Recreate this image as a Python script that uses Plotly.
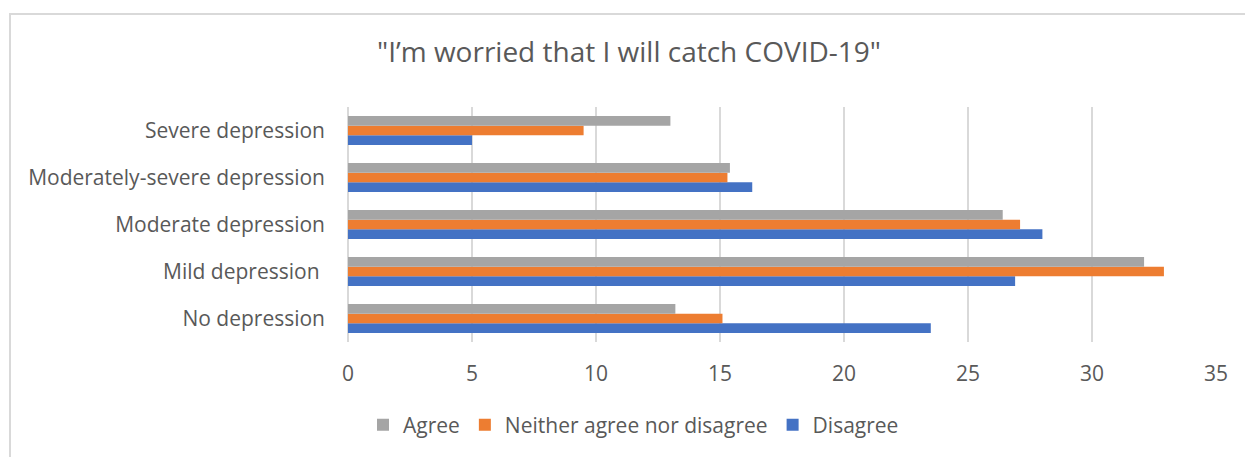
import plotly.graph_objects as go

categories = ["No depression", "Mild depression\u00a0", "Moderate depression",
              "Moderately-severe depression", "Severe depression"]
agree = [13.2, 32.1, 26.4, 15.4, 13.0]
neither = [15.1, 32.9, 27.1, 15.3, 9.5]
disagree = [23.5, 26.9, 28.0, 16.3, 5.0]
x_ticks = [0, 5, 10, 15, 20, 25, 30, 35]

W, H = 1245, 457
L, R, T, B = 348, 29, 107, 115
pw, ph = W - L - R, H - T - B

FONT = "Open Sans, sans-serif"
TXT = "#595959"

fig = go.Figure()
fig.add_trace(go.Bar(y=categories, x=disagree, name="Disagree", orientation="h",
                     marker=dict(color="#4472C4", line=dict(width=0))))
fig.add_trace(go.Bar(y=categories, x=neither, name="Neither agree nor disagree", orientation="h",
                     marker=dict(color="#ED7D31", line=dict(width=0))))
fig.add_trace(go.Bar(y=categories, x=agree, name="Agree", orientation="h",
                     marker=dict(color="#A5A5A5", line=dict(width=0))))

def px_x(p):
    return (p - L) / pw

def px_y(p):
    return (H - B - p) / ph

fig.update_layout(
    width=W, height=H,
    margin=dict(l=L, r=R, t=T, b=B, pad=0),
    paper_bgcolor="white", plot_bgcolor="white",
    barmode="group", bargap=0.38, bargroupgap=0,
    font=dict(family=FONT, color=TXT, size=21),
    title=dict(text="\"I’m worried that I will catch COVID-19\"",
               x=629 / W, xanchor="center", y=1 - 52 / H, yanchor="middle",
               xref="container", yref="container",
               font=dict(family=FONT, size=28, color=TXT)),
    xaxis=dict(range=[0, 35], tickvals=x_ticks, ticktext=[str(v) for v in x_ticks],
               showgrid=True, gridcolor="#d9d9d9", gridwidth=2,
               zeroline=True, zerolinecolor="#d9d9d9", zerolinewidth=2,
               showline=False, ticks="", tickfont=dict(size=21, color=TXT),
               ticklabelstandoff=17, fixedrange=True),
    yaxis=dict(showgrid=False, zeroline=False, showline=False, ticks="",
               tickfont=dict(size=21, color=TXT), ticklabelstandoff=22,
               categoryorder="array", categoryarray=categories),
    legend=dict(orientation="h", traceorder="reversed",
                x=px_x(363), xanchor="left",
                y=px_y(425), yanchor="middle",
                font=dict(size=21, color=TXT), bgcolor="rgba(0,0,0,0)"),
    showlegend=True,
    shapes=[dict(type="rect", xref="paper", yref="paper",
                 x0=px_x(10), x1=px_x(1300), y0=px_y(14), y1=px_y(520),
                 line=dict(color="#d9d9d9", width=2), fillcolor="rgba(0,0,0,0)",
                 layer="below")],
)

fig.write_html("out.html")
